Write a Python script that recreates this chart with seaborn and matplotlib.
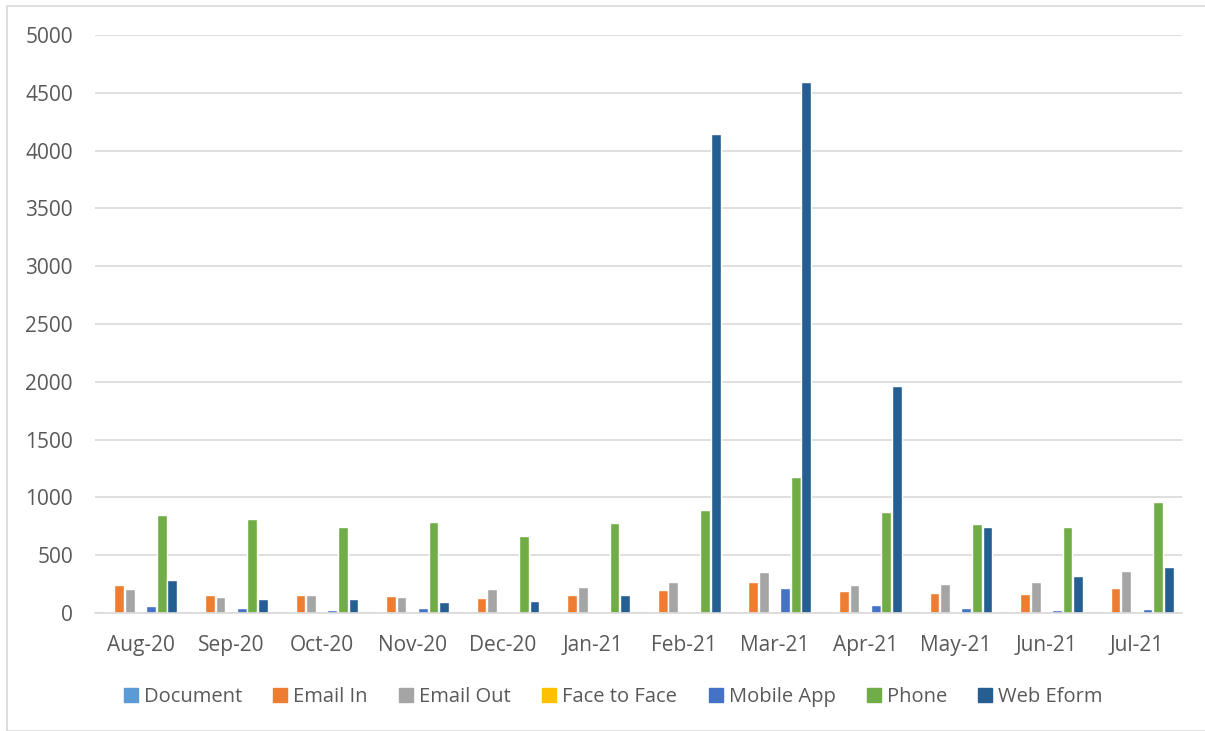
import pandas as pd
import matplotlib.pyplot as plt
import matplotlib.patches as mpatches
import seaborn as sns
import numpy as np

months = ['Aug-20', 'Sep-20', 'Oct-20', 'Nov-20', 'Dec-20', 'Jan-21',
          'Feb-21', 'Mar-21', 'Apr-21', 'May-21', 'Jun-21', 'Jul-21']
channels = ['Document', 'Email In', 'Email Out', 'Face to Face',
            'Mobile App', 'Phone', 'Web Eform']

document = [5, 0, 0, 0, 0, 0, 0, 0, 0, 0, 0, 0]
email_in = [242, 155, 155, 148, 128, 158, 197, 268, 190, 170, 162, 216]
email_out = [208, 138, 160, 140, 208, 227, 265, 355, 240, 250, 268, 365]
face_to_face = [0, 0, 0, 0, 0, 0, 0, 0, 0, 0, 0, 0]
mobile_app = [60, 43, 30, 45, 0, 0, 0, 215, 70, 40, 30, 38]
phone = [848, 815, 742, 785, 670, 780, 888, 1175, 875, 770, 748, 958]
web_eform = [285, 121, 124, 95, 103, 155, 4145, 4590, 1960, 745, 322, 400]

colors = ['#5B9BD5', '#ED7D31', '#A5A5A5', '#FFC000', '#4472C4', '#70AD47', '#255E91']

series = [document, email_in, email_out, face_to_face, mobile_app, phone, web_eform]
rows = []
for ch, vals in zip(channels, series):
    for m, v in zip(months, vals):
        rows.append({'Month': m, 'Channel': ch, 'Count': v})
df = pd.DataFrame(rows)

sns.set_style("white")
plt.rcParams['font.family'] = ['Open Sans', 'DejaVu Sans']

fig = plt.figure(figsize=(12.05, 7.31), dpi=100)
# light frame round the chart area
fig.patches.append(mpatches.Rectangle((7 / 1205, 0.5 / 731), 1.1, 725 / 731,
                                      transform=fig.transFigure, fill=False,
                                      edgecolor='#D9D9D9', linewidth=1.2))
ax = fig.add_axes([0.079, 0.1614, 0.902, 0.7906])

sns.barplot(data=df, x='Month', y='Count', hue='Channel', order=months,
            hue_order=channels, palette=colors, saturation=1, width=0.82,
            gap=0.08, ax=ax, legend=True)

ax.set_ylim(0, 5000)
ax.set_yticks(np.arange(0, 5001, 500))
ax.set_xlim(-0.5, len(months) - 0.5)
ax.yaxis.grid(True, color='#D9D9D9', linewidth=1.2)
ax.set_axisbelow(True)
for s in ['top', 'right', 'left']:
    ax.spines[s].set_visible(False)
ax.spines['bottom'].set_color('#D9D9D9')
ax.spines['bottom'].set_linewidth(1.2)
ax.tick_params(axis='both', length=0, labelsize=15, colors='#595959')
ax.tick_params(axis='y', pad=16)
ax.tick_params(axis='x', pad=16)
ax.set_xlabel('')
ax.set_ylabel('')

ax.legend_.remove()
handles = [plt.Rectangle((0, 0), 1, 1, color=c) for c in colors]
fig.legend(handles, channels, loc='center', bbox_to_anchor=(0.509, 0.047),
           ncol=7, frameon=False, fontsize=14.5, handlelength=0.7,
           handleheight=0.7, handletextpad=0.3, columnspacing=1.55,
           labelcolor='#595959')

plt.savefig('out.png', dpi=100)
